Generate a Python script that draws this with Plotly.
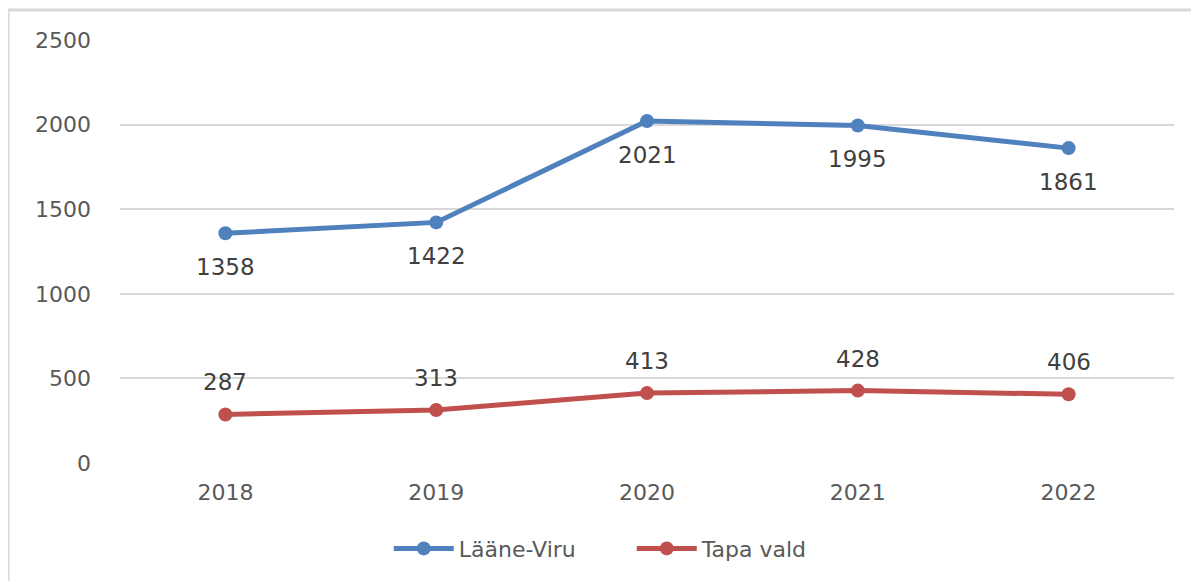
import plotly.graph_objects as go

years = ["2018", "2019", "2020", "2021", "2022"]
laane_viru = [1358, 1422, 2021, 1995, 1861]
tapa_vald = [287, 313, 413, 428, 406]

blue = "#4f81bd"
red = "#c0504d"
txt = "#595959"
font_family = "DejaVu Sans"

fig = go.Figure()
fig.add_trace(go.Scatter(
    x=years, y=laane_viru, name="Lääne-Viru", mode="lines+markers",
    line=dict(color=blue, width=5), marker=dict(size=14, color=blue),
))
fig.add_trace(go.Scatter(
    x=years, y=tapa_vald, name="Tapa vald", mode="lines+markers",
    line=dict(color=red, width=5), marker=dict(size=14, color=red),
))

annotations = []
for i, v in enumerate(laane_viru):
    annotations.append(dict(x=i, y=v, xref="x", yref="y", text=str(v), showarrow=False, yshift=-34,
                            font=dict(size=23, color="#404040", family=font_family)))
for i, v in enumerate(tapa_vald):
    annotations.append(dict(x=i, y=v, xref="x", yref="y", text=str(v), showarrow=False, yshift=32,
                            font=dict(size=23, color="#404040", family=font_family)))

fig.update_layout(
    width=1191, height=573,
    margin=dict(l=112, r=25, t=32, b=117),
    plot_bgcolor="white", paper_bgcolor="white",
    font=dict(family=font_family, size=22, color=txt),
    showlegend=True,
    legend=dict(orientation="h", x=0.255, xanchor="left", y=-0.15, yanchor="top",
                font=dict(size=22, color=txt), itemwidth=60,
                entrywidth=168, entrywidthmode="pixels"),
    annotations=annotations,
    xaxis=dict(type="category", range=[-0.5, 4.5], showgrid=False, zeroline=False,
               showline=False, ticks="", ticklabelstandoff=14,
               tickfont=dict(size=22, color=txt)),
    yaxis=dict(range=[0, 2500], dtick=500, showgrid=True, gridcolor="#d9d9d9", gridwidth=2,
               zeroline=False, showline=False, ticks="", ticklabelstandoff=28,
               tickfont=dict(size=22, color=txt)),
    shapes=[
        dict(type="line", xref="paper", yref="paper", x0=(8 - 120) / 1054, x1=1.03,
             y0=(464 - 10) / 424, y1=(464 - 10) / 424, line=dict(color="#d9d9d9", width=3)),
        dict(type="line", xref="paper", yref="paper", x0=(8 - 120) / 1054, x1=(8 - 120) / 1054,
             y0=(464 - 10) / 424, y1=-0.3, line=dict(color="#d9d9d9", width=3)),
    ],
)

fig.write_html("out.html")
